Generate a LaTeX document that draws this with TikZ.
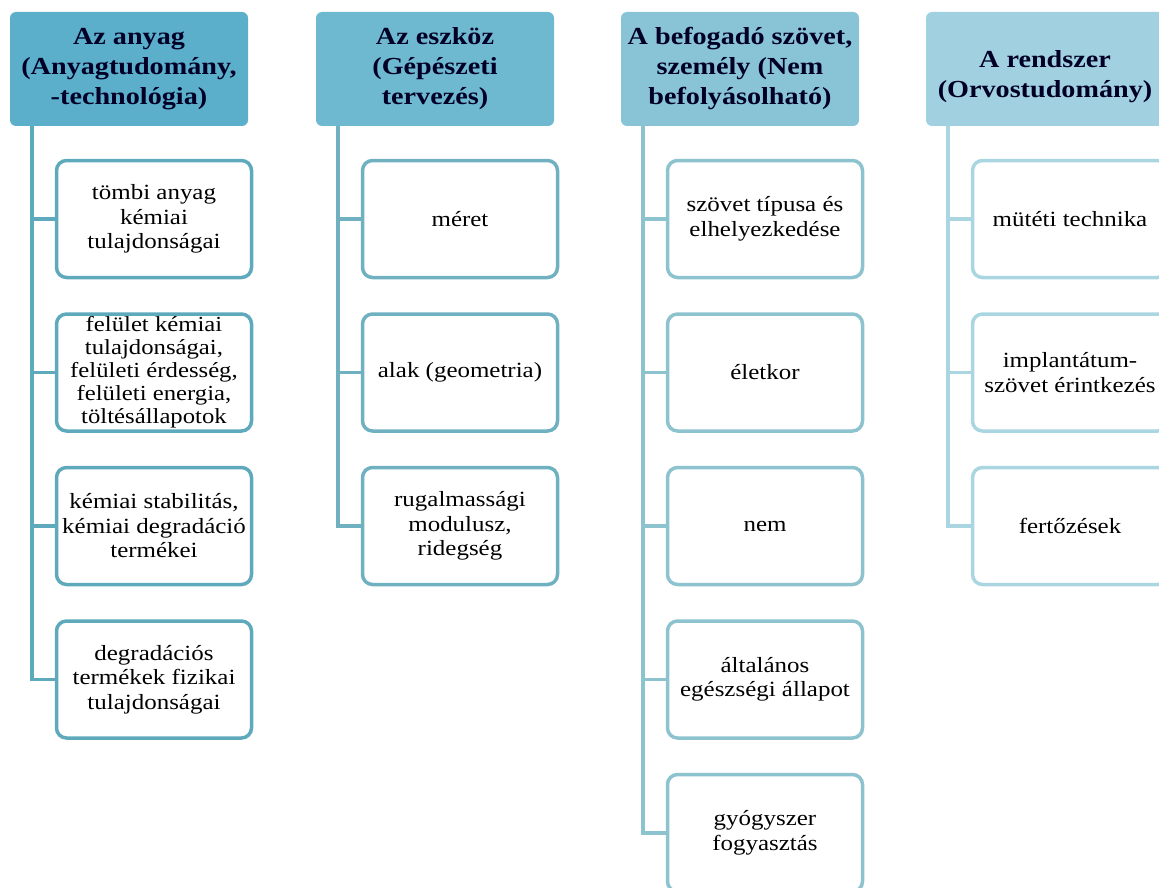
\documentclass[tikz,border=0pt]{standalone}
\usepackage{fontspec}
\setmainfont{Liberation Serif}[FakeStretch=1.15]
\usepackage{xcolor}

\definecolor{headA}{HTML}{5BAFCB}
\definecolor{headB}{HTML}{6FB9D0}
\definecolor{headC}{HTML}{88C4D6}
\definecolor{headD}{HTML}{A1D1E0}
\definecolor{lineA}{HTML}{5FA9BC}
\definecolor{lineB}{HTML}{6FB0C1}
\definecolor{lineC}{HTML}{8DC3CF}
\definecolor{lineD}{HTML}{A9D6E0}

\tikzset{
  head/.style={rectangle, rounded corners=6pt, minimum width=238pt, minimum height=114pt,
    inner sep=2pt, align=center, text=black!85!blue,
    font=\fontsize{24.5}{30}\selectfont\bfseries},
  headtext/.style={inner sep=0pt, align=center, text=black!85!blue,
    font=\fontsize{24.5}{30}\selectfont\bfseries},
  item/.style={rectangle, rounded corners=10pt, draw, line width=3.5pt, fill=white,
    minimum width=195pt, minimum height=117pt, inner sep=1pt, align=center,
    font=\fontsize{21.7}{24.5}\selectfont},
  link/.style={line width=3.5pt}
}

\begin{document}
\begin{tikzpicture}[x=1pt, y=-1pt]
  \useasboundingbox (0,0) rectangle (1159,888);

  % Headers
  \node[head, fill=headA] (h1) at (129, 69) {Az anyag\\(Anyagtudomány,\\-technológia)};
  \node[head, fill=headB] (h2) at (435, 69) {Az eszköz\\(Gépészeti\\tervezés)};
  \node[head, fill=headC] (h3) at (740, 69) {A befogadó szövet,\\személy (Nem\\befolyásolható)};
  \node[head, fill=headD] (h4) at (1045, 69) {};
  \node[headtext] (t4) at ([yshift=-8pt]h4.center) {A rendszer\\(Orvostudomány)};

  % First column
  \node[item, draw=lineA] (a1) at (154, 219) {tömbi anyag\\kémiai\\tulajdonságai};
  \node[item, draw=lineA, font=\fontsize{21.5}{23}\selectfont] (a2) at (154, 372.5) {felület kémiai\\tulajdonságai,\\felületi érdesség,\\felületi energia,\\töltésállapotok};
  \node[item, draw=lineA] (a3) at (154, 526) {kémiai stabilitás,\\kémiai degradáció\\termékei};
  \node[item, draw=lineA] (a4) at (154, 679.5) {degradációs\\termékek fizikai\\tulajdonságai};

  % Second column
  \node[item, draw=lineB] (b1) at (460, 219) {méret};
  \node[item, draw=lineB] (b2) at (460, 372.5) {alak (geometria)};
  \node[item, draw=lineB] (b3) at (460, 526) {rugalmassági\\modulusz,\\ridegség};

  % Third column
  \node[item, draw=lineC] (c1) at (765, 219) {szövet típusa és\\elhelyezkedése};
  \node[item, draw=lineC] (c2) at (765, 372.5) {életkor};
  \node[item, draw=lineC] (c3) at (765, 526) {nem};
  \node[item, draw=lineC] (c4) at (765, 679.5) {általános\\egészségi állapot};
  \node[item, draw=lineC] (c5) at (765, 833) {gyógyszer\\fogyasztás};

  % Fourth column
  \node[item, draw=lineD] (d1) at (1070, 219) {mütéti technika};
  \node[item, draw=lineD] (d2) at (1070, 372.5) {implantátum-\\szövet érintkezés};
  \node[item, draw=lineD] (d3) at (1070, 526) {fertőzések};

  % Connectors
  \draw[link, lineA] ([xshift=22pt]h1.south west) |- (a1.west);
  \draw[link, lineA] ([xshift=22pt]h1.south west) |- (a2.west);
  \draw[link, lineA] ([xshift=22pt]h1.south west) |- (a3.west);
  \draw[link, lineA] ([xshift=22pt]h1.south west) |- (a4.west);
  \draw[link, lineB] ([xshift=22pt]h2.south west) |- (b1.west);
  \draw[link, lineB] ([xshift=22pt]h2.south west) |- (b2.west);
  \draw[link, lineB] ([xshift=22pt]h2.south west) |- (b3.west);
  \draw[link, lineC] ([xshift=22pt]h3.south west) |- (c1.west);
  \draw[link, lineC] ([xshift=22pt]h3.south west) |- (c2.west);
  \draw[link, lineC] ([xshift=22pt]h3.south west) |- (c3.west);
  \draw[link, lineC] ([xshift=22pt]h3.south west) |- (c4.west);
  \draw[link, lineC] ([xshift=22pt]h3.south west) |- (c5.west);
  \draw[link, lineD] ([xshift=22pt]h4.south west) |- (d1.west);
  \draw[link, lineD] ([xshift=22pt]h4.south west) |- (d2.west);
  \draw[link, lineD] ([xshift=22pt]h4.south west) |- (d3.west);

\end{tikzpicture}
\end{document}
